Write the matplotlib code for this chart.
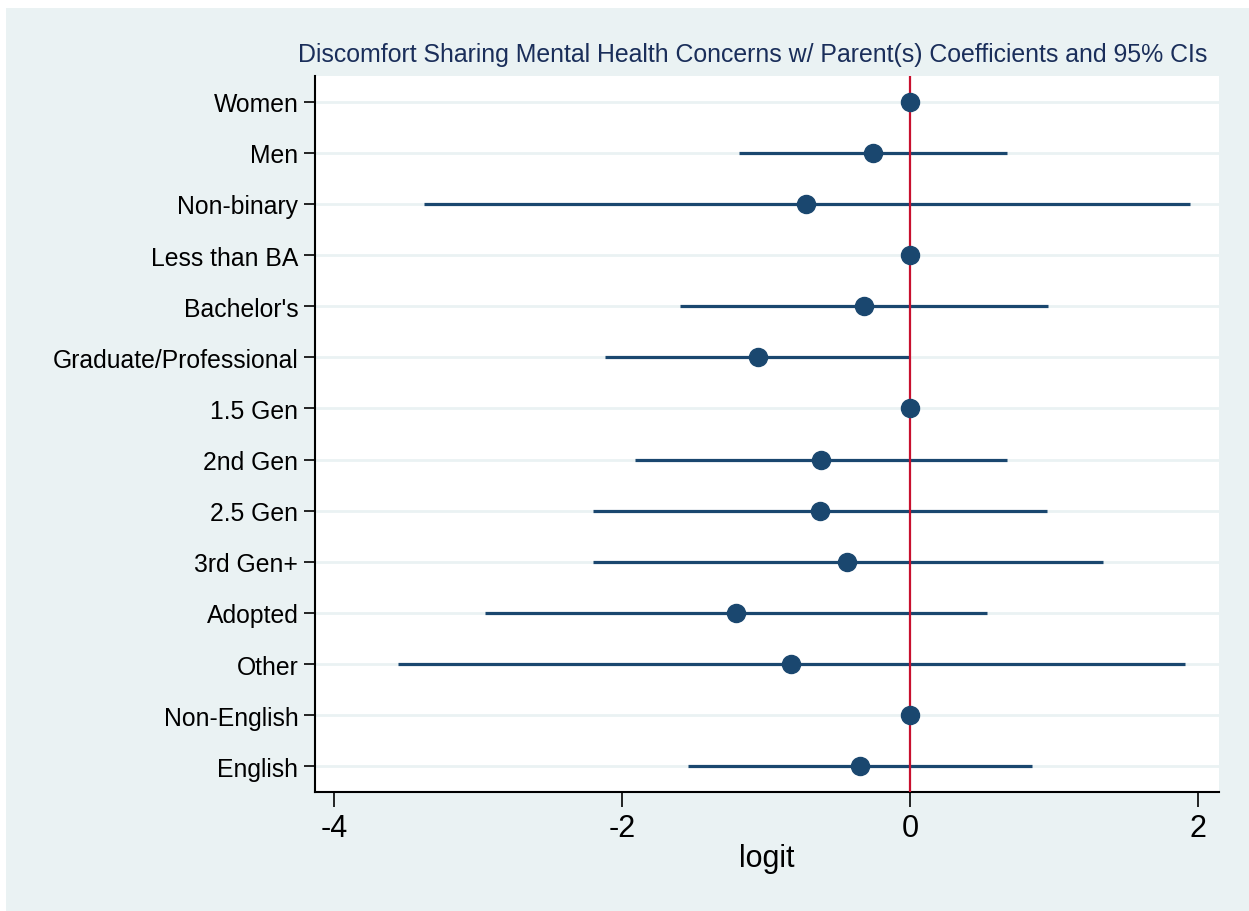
import matplotlib.pyplot as plt
import numpy as np
from matplotlib.patches import Rectangle

# --- data ---
labels = ["Women", "Men", "Non-binary", "Less than BA", "Bachelor's",
          "Graduate/Professional", "1.5 Gen", "2nd Gen", "2.5 Gen",
          "3rd Gen+", "Adopted", "Other", "Non-English", "English"]
coef = [0.0, -0.257, -0.722, 0.0, -0.319, -1.056, 0.0, -0.618, -0.625,
        -0.437, -1.208, -0.826, 0.0, -0.347]
ci_low = [0.0, -1.19, -3.375, 0.0, -1.597, -2.118, 0.0, -1.910, -2.201,
          -2.201, -2.951, -3.556, 0.0, -1.542]
ci_high = [0.0, 0.674, 1.944, 0.0, 0.958, 0.0, 0.0, 0.674, 0.951,
           1.340, 0.535, 1.910, 0.0, 0.847]

plt.rcParams['font.family'] = ['Liberation Sans', 'DejaVu Sans']

navy = '#1a476f'
bg = '#eaf2f3'

fig = plt.figure(figsize=(12.49, 9.12), dpi=100)
fig.patch.set_facecolor(bg)
# thin white strips on the left and top edges
fig.patches.append(Rectangle((0, 0), 6 / 1249, 1, transform=fig.transFigure,
                             facecolor='white', edgecolor='none', zorder=-5))
fig.patches.append(Rectangle((0, 1 - 9 / 912), 1, 9 / 912, transform=fig.transFigure,
                             facecolor='white', edgecolor='none', zorder=-5))

ax = fig.add_axes([315 / 1249, 119 / 912, 904 / 1249, 716 / 912])
ax.set_facecolor('white')

y = np.arange(len(labels))

for yi in y:
    ax.axhline(yi, color=bg, lw=2, zorder=0)

ax.hlines(y, ci_low, ci_high, color=navy, lw=2.3, zorder=2)
ax.axvline(0, color='#c8102e', lw=1.6, zorder=3)
ax.plot(coef, y, 'o', color=navy, ms=13, zorder=4)

ax.set_xlim(-4.132, 2.146)
ax.set_ylim(len(labels) - 0.5, -0.5)
ax.set_yticks(y)
ax.set_yticklabels(labels, fontsize=17.8)
ax.set_xticks([-4, -2, 0, 2])
ax.set_xticklabels(['-4', '-2', '0', '2'], fontsize=22)
ax.tick_params(axis='y', length=8, width=1.2, pad=4)
ax.tick_params(axis='x', length=11, width=1.2, pad=4)
ax.set_xlabel('logit', fontsize=22, labelpad=0)

for s in ['top', 'right']:
    ax.spines[s].set_visible(False)
for s in ['left', 'bottom']:
    ax.spines[s].set_linewidth(1.5)

fig.text(753 / 1249, 1 - 55 / 912,
         'Discomfort Sharing Mental Health Concerns w/ Parent(s) Coefficients and 95% CIs',
         ha='center', va='center', fontsize=17.9, color='#1a2e5a')

fig.savefig('out.png', dpi=100, facecolor=fig.get_facecolor())
